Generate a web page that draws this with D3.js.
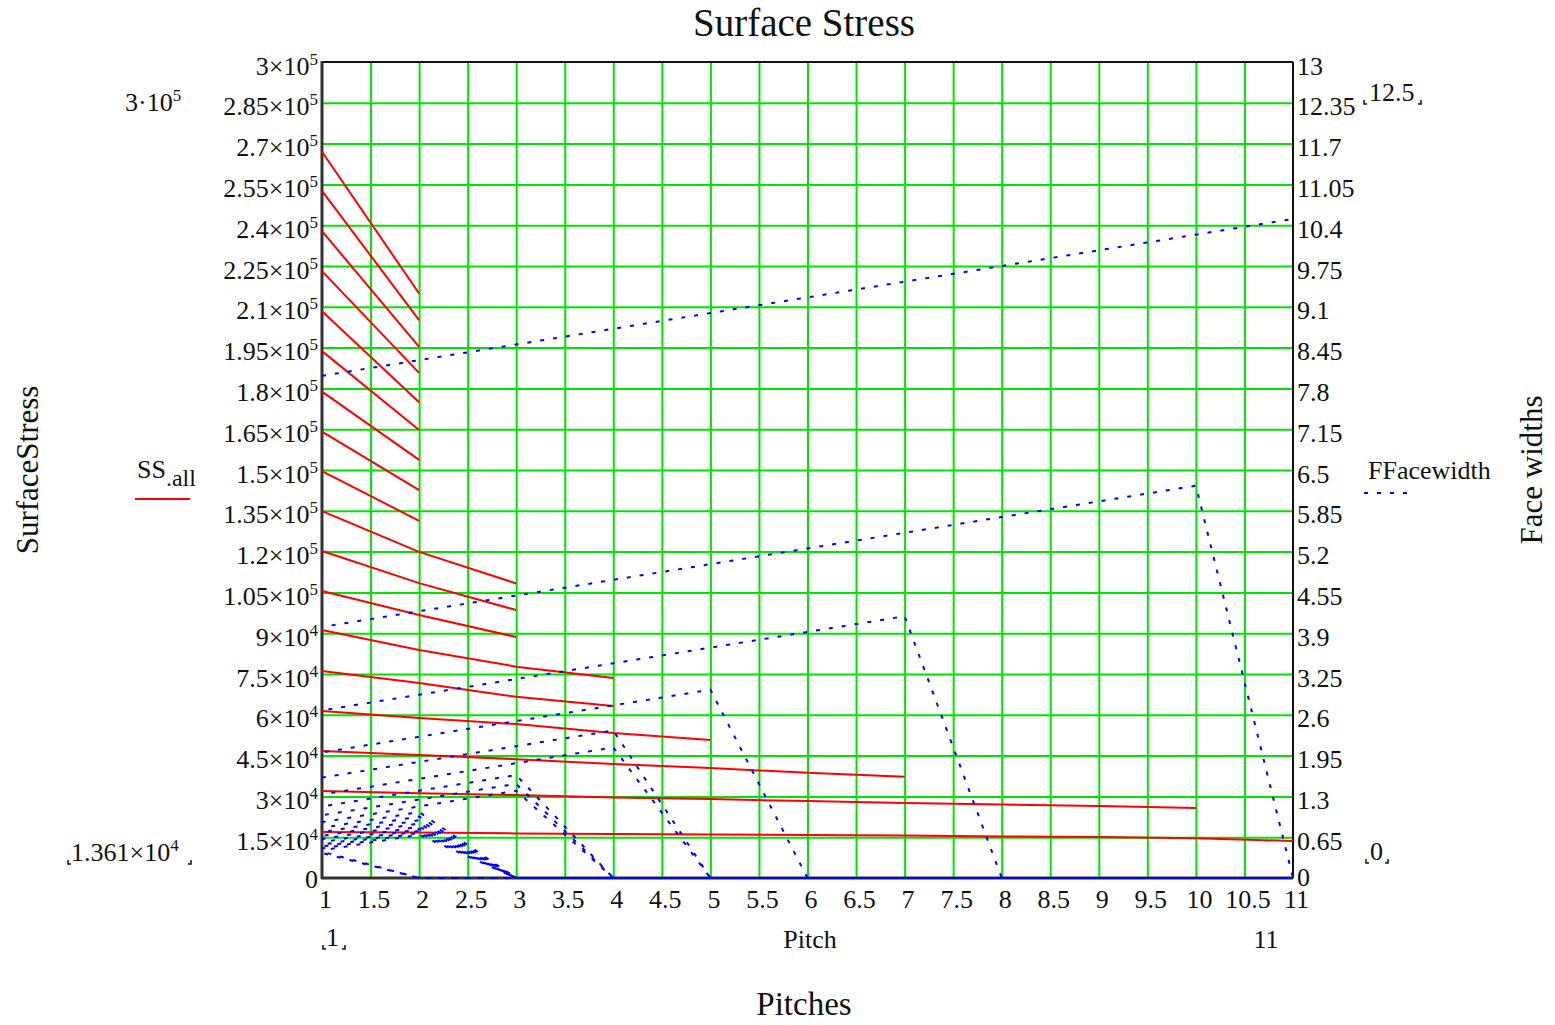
<!DOCTYPE html>
<html>
<head>
<meta charset="utf-8">
<script src="https://cdn.jsdelivr.net/npm/d3@7"></script>
<style>
  body { margin: 0; background: #ffffff; }
  svg text { font-family: "Liberation Serif", "Times New Roman", serif; fill: #111; }
</style>
</head>
<body>
<svg id="chart" width="1555" height="1025"></svg>
<script>
// Pitch values (x) shared by every trace
const pitches = [1, 2, 3, 4, 5, 6, 7, 8, 9, 10, 11];

// Allowable surface stress per face-width case (psi); traces stop where the case ends
const ssAll = [
  [16900, 16700, 16400, 16200, 16000, 15800, 15600, 15300, 15100, 14600, 13610],
  [32000, 31200, 30500, 29600, 29000, 28300, 27600, 27000, 26500, 25700],
  [46700, 45200, 43700, 41900, 40400, 38700, 37200],
  [61400, 58800, 56600, 53300, 50700],
  [76100, 71700, 66600, 63200],
  [91200, 83800, 77700, 73500],
  [105500, 96700, 88600],
  [120200, 108400, 98500],
  [134900, 119900, 108300],
  [149600, 131300],
  [164100, 142600],
  [178800, 153700],
  [193700, 164700],
  [208400, 174900],
  [223100, 185700],
  [237800, 195300],
  [252600, 205100],
  [267000, 214900]
];

// Face width per case (in), zero once the pitch range of the case is exceeded
const faceWidths = [
  [8.00, 8.25, 8.50, 8.75, 9.00, 9.25, 9.50, 9.75, 10.00, 10.25, 10.50],
  [4.00, 4.25, 4.50, 4.75, 5.00, 5.25, 5.50, 5.75, 6.00, 6.25, 0],
  [2.67, 2.92, 3.17, 3.42, 3.67, 3.92, 4.17, 0, 0, 0, 0],
  [2.00, 2.25, 2.50, 2.75, 3.00, 0, 0, 0, 0, 0, 0],
  [1.60, 1.85, 2.10, 2.35, 0, 0, 0, 0, 0, 0, 0],
  [1.33, 1.58, 1.83, 2.08, 0, 0, 0, 0, 0, 0, 0],
  [1.14, 1.39, 1.64, 0, 0, 0, 0, 0, 0, 0, 0],
  [1.00, 1.25, 1.50, 0, 0, 0, 0, 0, 0, 0, 0],
  [0.89, 1.14, 1.39, 0, 0, 0, 0, 0, 0, 0, 0],
  [0.80, 1.05, 0, 0, 0, 0, 0, 0, 0, 0, 0],
  [0.73, 0.98, 0, 0, 0, 0, 0, 0, 0, 0, 0],
  [0.67, 0.92, 0, 0, 0, 0, 0, 0, 0, 0, 0],
  [0.62, 0.87, 0, 0, 0, 0, 0, 0, 0, 0, 0],
  [0.57, 0.82, 0, 0, 0, 0, 0, 0, 0, 0, 0],
  [0.53, 0.78, 0, 0, 0, 0, 0, 0, 0, 0, 0],
  [0.50, 0.75, 0, 0, 0, 0, 0, 0, 0, 0, 0],
  [0.47, 0.72, 0, 0, 0, 0, 0, 0, 0, 0, 0],
  [0.44, 0.69, 0, 0, 0, 0, 0, 0, 0, 0, 0],
  [0.42, 0, 0, 0, 0, 0, 0, 0, 0, 0, 0],
  [0.40, 0, 0, 0, 0, 0, 0, 0, 0, 0, 0]
];

// Tick values and labels
const xTickValues = [1, 1.5, 2, 2.5, 3, 3.5, 4, 4.5, 5, 5.5, 6, 6.5, 7, 7.5, 8, 8.5, 9, 9.5, 10, 10.5, 11];
const xTickLabels = ["1", "1.5", "2", "2.5", "3", "3.5", "4", "4.5", "5", "5.5", "6", "6.5", "7", "7.5", "8", "8.5", "9", "9.5", "10", "10.5", "11"];
const leftTickValues = [0, 15000, 30000, 45000, 60000, 75000, 90000, 105000, 120000, 135000, 150000,
  165000, 180000, 195000, 210000, 225000, 240000, 255000, 270000, 285000, 300000];
const leftTickLabels = ["0", "1.5×10^4", "3×10^4", "4.5×10^4", "6×10^4", "7.5×10^4", "9×10^4",
  "1.05×10^5", "1.2×10^5", "1.35×10^5", "1.5×10^5", "1.65×10^5", "1.8×10^5", "1.95×10^5",
  "2.1×10^5", "2.25×10^5", "2.4×10^5", "2.55×10^5", "2.7×10^5", "2.85×10^5", "3×10^5"];
const rightTickValues = [0, 0.65, 1.3, 1.95, 2.6, 3.25, 3.9, 4.55, 5.2, 5.85, 6.5, 7.15, 7.8, 8.45,
  9.1, 9.75, 10.4, 11.05, 11.7, 12.35, 13];
const rightTickLabels = ["0", "0.65", "1.3", "1.95", "2.6", "3.25", "3.9", "4.55", "5.2", "5.85", "6.5",
  "7.15", "7.8", "8.45", "9.1", "9.75", "10.4", "11.05", "11.7", "12.35", "13"];

const svg = d3.select("#chart");
const L = 322, R = 1293, T = 62, B = 878;

const x = d3.scaleLinear().domain([1, 11]).range([L, R]);
const yL = d3.scaleLinear().domain([0, 300000]).range([B, T]);
const yR = d3.scaleLinear().domain([0, 13]).range([B, T]);

const GRID = "#00e400";
const TICK_FS = 26;

// Grid lines
const gx = svg.append("g").attr("transform", `translate(0,${B})`)
  .call(d3.axisBottom(x).tickValues(xTickValues.slice(1, -1)).tickSize(-(B - T)).tickFormat(""));
gx.select(".domain").remove();
gx.selectAll("line").attr("stroke", GRID).attr("stroke-width", 2);

const gy = svg.append("g").attr("transform", `translate(${L},0)`)
  .call(d3.axisLeft(yL).tickValues(leftTickValues.slice(1, -1)).tickSize(-(R - L)).tickFormat(""));
gy.select(".domain").remove();
gy.selectAll("line").attr("stroke", GRID).attr("stroke-width", 2);

// Plot frame
svg.append("line").attr("x1", L).attr("x2", R).attr("y1", T).attr("y2", T).attr("stroke", "#111").attr("stroke-width", 2);
svg.append("line").attr("x1", R).attr("x2", R).attr("y1", T).attr("y2", B).attr("stroke", "#111").attr("stroke-width", 2);
svg.append("line").attr("x1", L).attr("x2", L).attr("y1", T - 1).attr("y2", B + 1).attr("stroke", "#333").attr("stroke-width", 3);
svg.append("line").attr("x1", L - 1).attr("x2", R).attr("y1", B).attr("y2", B).attr("stroke", "#333").attr("stroke-width", 3);

// Left axis labels (scientific with superscripts); the zero label sits a little higher
const ax = svg.append("g").attr("transform", `translate(${L - 4},0)`)
  .call(d3.axisLeft(yL).tickValues(leftTickValues).tickSize(0).tickPadding(0)
    .tickFormat((d, i) => leftTickLabels[i]));
ax.select(".domain").remove();
ax.selectAll("text").each(function (d, i) {
  const t = d3.select(this);
  const parts = leftTickLabels[i].split("^");
  t.text(null).attr("font-size", TICK_FS).attr("dy", null).attr("y", d === 0 ? 9 : 12)
    .attr("font-family", "Liberation Serif").attr("fill", "#111");
  t.append("tspan").text(parts[0]);
  if (parts[1]) t.append("tspan").attr("dy", -10).attr("font-size", 17).text(parts[1]);
});

// Right axis labels
const ar = svg.append("g").attr("transform", `translate(${R + 4},0)`)
  .call(d3.axisRight(yR).tickValues(rightTickValues).tickSize(0).tickPadding(0)
    .tickFormat((d, i) => rightTickLabels[i]));
ar.select(".domain").remove();
ar.selectAll("text").attr("font-size", TICK_FS).attr("dy", null).attr("y", d => d === 0 ? 7 : 12)
  .attr("font-family", "Liberation Serif").attr("fill", "#111");

// Bottom axis labels
const ab = svg.append("g").attr("transform", `translate(3,${B})`)
  .call(d3.axisBottom(x).tickValues(xTickValues).tickSize(0).tickPadding(0)
    .tickFormat((d, i) => xTickLabels[i]));
ab.select(".domain").remove();
ab.selectAll("text").attr("font-size", TICK_FS).attr("dy", null).attr("y", 30)
  .attr("font-family", "Liberation Serif").attr("fill", "#111");

// Surface stress traces
const redLine = d3.line().x((d, i) => x(pitches[i])).y(d => yL(d));
svg.append("g").selectAll("path").data(ssAll).join("path")
  .attr("d", redLine).attr("fill", "none").attr("stroke", "#ff0000").attr("stroke-width", 2);

// Face width traces (dotted)
const blueLine = d3.line().x((d, i) => x(pitches[i])).y(d => yR(d));
svg.append("g").selectAll("path").data(faceWidths).join("path")
  .attr("d", blueLine).attr("fill", "none").attr("stroke", "#0000ff").attr("stroke-width", 2)
  .attr("stroke-dasharray", "4,9").attr("stroke-dashoffset", (d, i) => i * 3.3);

// Titles
svg.append("text").attr("x", 804).attr("y", 36).attr("text-anchor", "middle").attr("font-size", 39).text("Surface Stress");
svg.append("text").attr("x", 804).attr("y", 1015).attr("text-anchor", "middle").attr("font-size", 33).text("Pitches");
svg.append("text").attr("transform", "translate(38,470) rotate(-90)").attr("text-anchor", "middle").attr("font-size", 31).text("SurfaceStress");
svg.append("text").attr("transform", "translate(1542,470) rotate(-90)").attr("text-anchor", "middle").attr("font-size", 31).text("Face widths");
svg.append("text").attr("x", 810).attr("y", 948).attr("text-anchor", "middle").attr("font-size", 26).text("Pitch");

// Legends
const ssLabel = svg.append("text").attr("x", 137).attr("y", 478).attr("font-size", 26);
ssLabel.append("tspan").text("SS");
ssLabel.append("tspan").attr("dy", 8).attr("font-size", 24).text(".all");
svg.append("line").attr("x1", 135).attr("x2", 190).attr("y1", 499).attr("y2", 499).attr("stroke", "#ff0000").attr("stroke-width", 2);
svg.append("text").attr("x", 1368).attr("y", 479).attr("font-size", 26).text("FFacewidth");
svg.append("line").attr("x1", 1364).attr("x2", 1412).attr("y1", 493).attr("y2", 493)
  .attr("stroke", "#0000ff").attr("stroke-width", 2).attr("stroke-dasharray", "4,9");

// Axis limit markers
function bracketed(xl, xr, yb) {
  svg.append("path").attr("d", `M${xl},${yb - 4}V${yb}H${xl + 3}`).attr("fill", "none").attr("stroke", "#111").attr("stroke-width", 1.5);
  svg.append("path").attr("d", `M${xr},${yb - 4}V${yb}H${xr - 3}`).attr("fill", "none").attr("stroke", "#111").attr("stroke-width", 1.5);
}
const upLim = svg.append("text").attr("x", 125).attr("y", 111).attr("font-size", 26);
upLim.append("tspan").text("3·10");
upLim.append("tspan").attr("dy", -10).attr("font-size", 17).text("5");
const loLim = svg.append("text").attr("x", 71).attr("y", 861).attr("font-size", 26);
loLim.append("tspan").text("1.361×10");
loLim.append("tspan").attr("dy", -10).attr("font-size", 17).text("4");
bracketed(68, 191, 864);
svg.append("text").attr("x", 1369).attr("y", 101).attr("font-size", 26).text("12.5");
bracketed(1364, 1421, 104);
svg.append("text").attr("x", 1370).attr("y", 860).attr("font-size", 26).text("0");
bracketed(1366, 1388, 863);
svg.append("text").attr("x", 326).attr("y", 946).attr("font-size", 26).text("1");
bracketed(323, 345, 949);
svg.append("text").attr("x", 1266).attr("y", 948).attr("text-anchor", "middle").attr("font-size", 26).text("11");
</script>
</body>
</html>
